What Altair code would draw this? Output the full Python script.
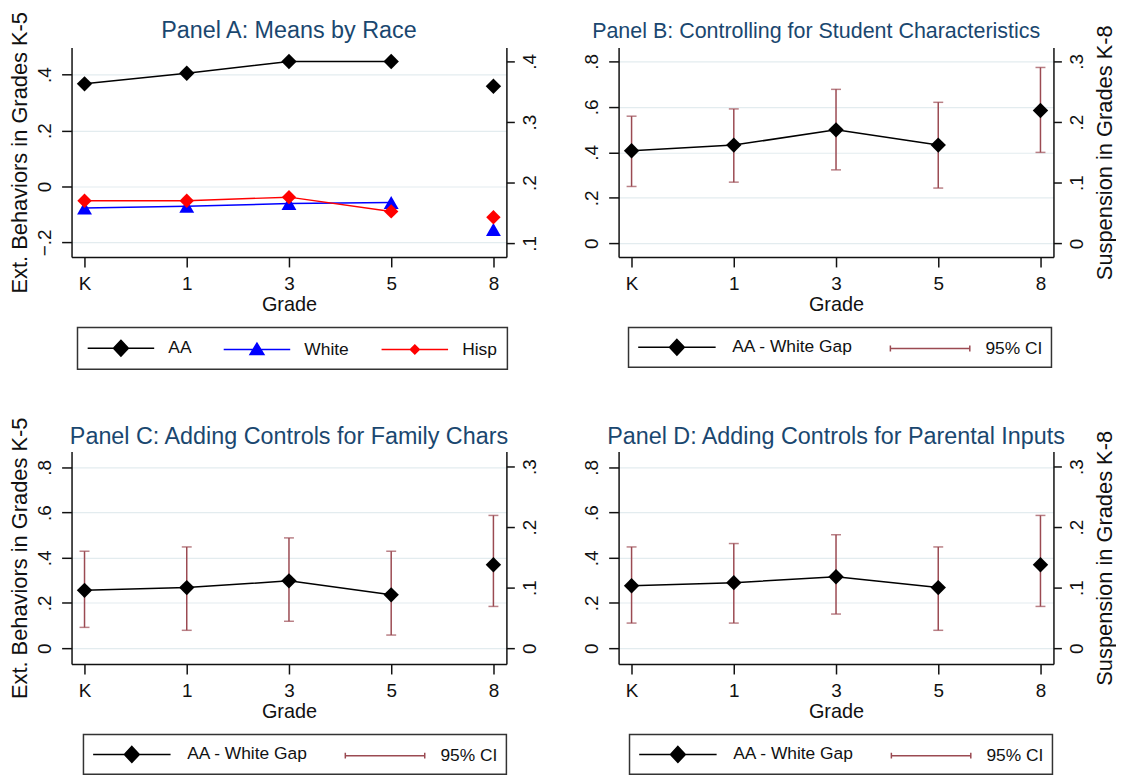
import altair as alt
import pandas as pd

FONT = "Liberation Sans"
TITLE_COLOR = "#1a476f"
CI_COLOR = "#9b4a52"
GRID_COLOR = "#e3ecef"
INK = "#111111"

grades = ["K", "1", "3", "5", "8"]

panel_titles = [
    "Panel A: Means by Race",
    "Panel B: Controlling for Student Characteristics",
    "Panel C: Adding Controls for Family Chars",
    "Panel D: Adding Controls for Parental Inputs",
]

# Panel A: means by race (grade 8 plotted on the right-hand axis)
races = ["AA", "White", "Hisp"]
race_colors = ["black", "blue", "red"]
aa_means = [0.367, 0.405, 0.447, 0.447, 0.359]
white_means = [-0.077, -0.071, -0.061, -0.057, 0.123]
hisp_means = [-0.051, -0.051, -0.038, -0.089, 0.143]

# Panels B-D: AA - White gap with 95% CI
series = ["AA - White Gap", "95% CI"]
gap_b = [0.407, 0.432, 0.499, 0.432, 0.219]
lo_b = [0.250, 0.269, 0.323, 0.243, 0.150]
hi_b = [0.559, 0.591, 0.677, 0.620, 0.290]

gap_c = [0.256, 0.268, 0.298, 0.236, 0.138]
lo_c = [0.092, 0.079, 0.119, 0.058, 0.069]
hi_c = [0.429, 0.448, 0.488, 0.429, 0.2195]

gap_d = [0.276, 0.290, 0.316, 0.268, 0.138]
lo_d = [0.111, 0.111, 0.151, 0.079, 0.069]
hi_d = [0.448, 0.463, 0.502, 0.448, 0.2195]

left_ticks_a = [-0.2, 0, 0.2, 0.4]
right_ticks_a = [0.1, 0.2, 0.3, 0.4]
left_ticks = [0, 0.2, 0.4, 0.6, 0.8]
right_ticks = [0, 0.1, 0.2, 0.3]

left_dom_a = [-0.252, 0.497]
right_dom_a = [0.0776, 0.4229]
left_dom_b = [-0.060, 0.861]
right_dom_b = [-0.0224, 0.3229]
left_dom_cd = [-0.0703, 0.870]
right_dom_cd = [-0.0263, 0.3251]

Y_LEFT_TITLE = "Ext. Behaviors in Grades K-5"
Y_RIGHT_TITLE = "Suspension in Grades K-8"

W = 438
H_TOP, H_BOT = 211, 214
LABEL_EXPR = "datum.value == 0 ? '0' : replace(format(datum.value, '.1f'), '0.', '.')"

# legend symbol paths (unit = 10 px at symbolSize 400)
P_LINE_DIAMOND_A = "M-3.35,0H3.35M0,-0.8L0.75,0L0,0.8L-0.75,0Z"
P_LINE_TRI_A = "M-3.35,0H3.35M0,-0.65L0.7,0.5L-0.7,0.5Z"
P_LINE_SMALLD_A = "M-3.35,0H3.35M0,-0.45L0.45,0L0,0.45L-0.45,0Z"
P_LINE_DIAMOND = "M-3.9,0H3.9M0,-0.8L0.75,0L0,0.8L-0.75,0Z"
P_CAP = "M-4,0H4M-4,-0.3V0.3M4,-0.3V0.3"


def x_enc():
    return alt.X(
        "grade:O", sort=grades,
        scale=alt.Scale(domain=grades, type="point", padding=0.127),
        axis=alt.Axis(title="Grade", labelAngle=0, tickSize=10, labelPadding=8,
                      titlePadding=1, grid=False, labelFontSize=19, titleFontSize=20),
    )


def left_axis(ticks, title):
    kw = dict(orient="left", values=ticks, labelExpr=LABEL_EXPR, labelAngle=270,
              tickSize=10, labelPadding=7, grid=True, gridColor=GRID_COLOR, gridWidth=1.2,
              labelFontSize=19, titleFontSize=22, titlePadding=4)
    if title:
        return alt.Axis(title=title, **kw)
    return alt.Axis(title=None, **kw)


def right_axis(ticks, title):
    kw = dict(orient="right", values=ticks, labelExpr=LABEL_EXPR, labelAngle=270,
              tickSize=8, labelPadding=6, grid=False, labelFontSize=19,
              titleFontSize=22, titleAngle=270, titleBaseline="top", titlePadding=8)
    if title:
        return alt.Axis(title=title, **kw)
    return alt.Axis(title=None, **kw)


def title_mark(text, size, xc, yb):
    df = pd.DataFrame({"title": [text]})
    return alt.Chart(df).mark_text(
        font=FONT, fontSize=size, color=TITLE_COLOR, align="center", baseline="alphabetic"
    ).encode(x=alt.value(xc), y=alt.value(yb), text="title:N")


def carrier(domain, fills, strokes, shapes, legend):
    df = pd.DataFrame({"series": domain})
    return (
        alt.Chart(df)
        .transform_filter("false")
        .mark_point(filled=True, strokeWidth=1.5)
        .encode(
            x=alt.value(0), y=alt.value(0),
            fill=alt.Fill("series:N", scale=alt.Scale(domain=domain, range=fills), legend=legend),
            stroke=alt.Stroke("series:N", scale=alt.Scale(domain=domain, range=strokes), legend=legend),
            shape=alt.Shape("series:N", scale=alt.Scale(domain=domain, range=shapes), legend=legend),
        )
    )


def make_legend(cols, colpad, sym_off, lab_off, pad, lx, ly):
    return alt.Legend(title=None, orient="none", legendX=lx, legendY=ly, direction="horizontal",
                      columns=cols, columnPadding=colpad, symbolSize=400, symbolOffset=sym_off,
                      labelOffset=lab_off, padding=pad, symbolStrokeWidth=1.5, labelFontSize=17.5,
                      strokeColor="#333333", symbolOpacity=1)


INDEP = dict(y="independent", fill="independent", stroke="independent",
             shape="independent", size="independent", color="independent")

# ---------------- Panel A ----------------
rows = []
for race, vals in zip(races, [aa_means, white_means, hisp_means]):
    for g, v in zip(grades, vals):
        rows.append({"grade": g, "race": race, "value": v})
df_a = pd.DataFrame(rows)

color_a = alt.Color("race:N", scale=alt.Scale(domain=races, range=race_colors), legend=None)
shape_a = alt.Shape("race:N", scale=alt.Scale(domain=races, range=["diamond", "triangle-up", "diamond"]), legend=None)
size_a = alt.Size("race:N", scale=alt.Scale(domain=races, range=[240, 210, 80]), legend=None)

base_a = alt.Chart(df_a)
left_a = alt.layer(
    base_a.transform_filter("datum.grade != '8'").mark_line(strokeWidth=1.5).encode(
        x=x_enc(), y=alt.Y("value:Q", scale=alt.Scale(domain=left_dom_a, nice=False, zero=False),
                           axis=left_axis(left_ticks_a, Y_LEFT_TITLE)),
        color=color_a, detail="race:N"),
    base_a.transform_filter("datum.grade != '8'").mark_point(filled=True, opacity=1).encode(
        x=x_enc(), y=alt.Y("value:Q"), color=color_a, shape=shape_a, size=size_a),
)
right_a = base_a.transform_filter("datum.grade == '8'").mark_point(filled=True, opacity=1).encode(
    x=x_enc(), y=alt.Y("value:Q", scale=alt.Scale(domain=right_dom_a, nice=False, zero=False),
                       axis=right_axis(right_ticks_a, None)),
    color=color_a, shape=shape_a, size=size_a)
leg_a = carrier(races, race_colors, race_colors, [P_LINE_DIAMOND_A, P_LINE_TRI_A, P_LINE_SMALLD_A],
                make_legend(3, 29, 22.75, 36.75, 10, 6, 282))
panel_a = alt.layer(
    left_a, right_a, leg_a, title_mark(panel_titles[0], 23.5, W / 2, -10)
).resolve_scale(**INDEP).properties(width=W, height=H_TOP)


# ---------------- Panels B-D ----------------
def gap_panel(gap, lo, hi, ldom, rdom, ltitle, rtitle, title, tsize, tx, ty, h, lx, ly):
    df = pd.DataFrame({"grade": grades, "gap": gap, "lo": lo, "hi": hi})
    base = alt.Chart(df)

    def group(flt, dom, axis, with_line):
        b = base.transform_filter(flt)
        yscale = alt.Scale(domain=dom, nice=False, zero=False)
        layers = []
        if with_line:
            layers.append(b.mark_line(color="black", strokeWidth=1.5).encode(
                x=x_enc(), y=alt.Y("gap:Q", scale=yscale, axis=axis)))
        layers += [
            b.mark_rule(color=CI_COLOR, strokeWidth=1.5).encode(
                x=x_enc(), y=alt.Y("lo:Q", scale=yscale, axis=axis), y2="hi:Q"),
            b.mark_tick(color=CI_COLOR, thickness=1.5, size=10).encode(x=x_enc(), y="lo:Q"),
            b.mark_tick(color=CI_COLOR, thickness=1.5, size=10).encode(x=x_enc(), y="hi:Q"),
            b.mark_point(shape="diamond", filled=True, color="black", size=240, opacity=1).encode(
                x=x_enc(), y="gap:Q"),
        ]
        return alt.layer(*layers)

    left = group("datum.grade != '8'", ldom, left_axis(left_ticks, ltitle), True)
    right = group("datum.grade == '8'", rdom, right_axis(right_ticks, rtitle), False)
    leg = carrier(series, ["black", CI_COLOR], ["black", CI_COLOR], [P_LINE_DIAMOND, P_CAP],
                  make_legend(2, 33, 28.75, 44.75, 9, lx, ly))
    return alt.layer(left, right, leg, title_mark(title, tsize, tx, ty)).resolve_scale(
        y="independent", fill="independent", stroke="independent", shape="independent").properties(
        width=W, height=h)


panel_b = gap_panel(gap_b, lo_b, hi_b, left_dom_b, right_dom_b, None, Y_RIGHT_TITLE,
                    panel_titles[1], 21.6, 199, -10, H_TOP, 10, 282)
panel_c = gap_panel(gap_c, lo_c, hi_c, left_dom_cd, right_dom_cd, Y_LEFT_TITLE, None,
                    panel_titles[2], 23.5, W / 2, -8, H_BOT, 12, 285)
panel_d = gap_panel(gap_d, lo_d, hi_d, left_dom_cd, right_dom_cd, None, Y_RIGHT_TITLE,
                    panel_titles[3], 23.5, W / 2, -8, H_BOT, 11, 285)

chart = (
    alt.concat(panel_a, panel_b, panel_c, panel_d, columns=2, bounds="flush",
               spacing={"row": 196, "column": 113})
    .resolve_scale(color="independent", fill="independent", stroke="independent",
                   shape="independent", size="independent")
    .properties(padding={"left": 0, "top": 0, "right": 0, "bottom": 0}, background="white")
    .configure_view(stroke="transparent")
    .configure_axis(domainColor=INK, domainWidth=1.5, tickColor=INK, tickWidth=1.5,
                    labelFont=FONT, titleFont=FONT, labelColor=INK, titleColor=INK,
                    titleFontWeight="normal")
    .configure_legend(labelFont=FONT, labelColor=INK, strokeWidth=1.5)
)

chart.save("out.html", embed_options={"renderer": "svg", "actions": False})
